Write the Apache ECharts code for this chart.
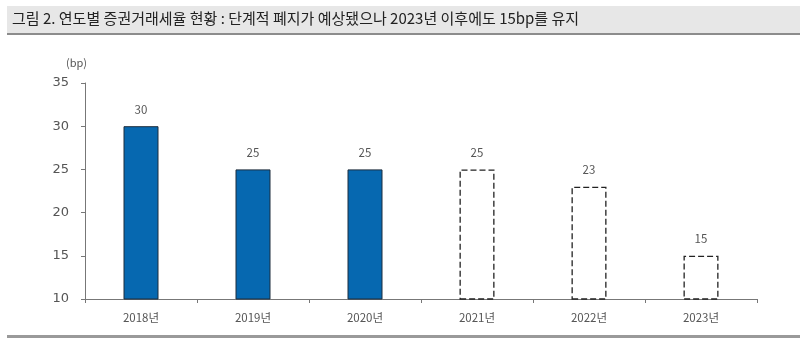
<!DOCTYPE html>
<html>
<head>
<meta charset="utf-8">
<script src="https://cdn.jsdelivr.net/npm/echarts@6/dist/echarts.min.js"></script>
<style>
  html, body { margin: 0; padding: 0; background: #fff; }
  #chart { width: 800px; height: 341px; }
</style>
</head>
<body>
<div id="chart"></div>
<script>
// Securities transaction tax rate by year (bp)
const years = ['2018년', '2019년', '2020년', '2021년', '2022년', '2023년'];
const taxRates = [30, 25, 25, 25, 23, 15];
// Years with scheduled (not yet enacted) rates are drawn as dashed outlines
const planned = [false, false, false, true, true, true];
const yTicks = { min: 10, max: 35, interval: 5 };

const chart = echarts.init(document.getElementById('chart'));

const barData = taxRates.map((v, i) => planned[i]
  ? { value: v, itemStyle: { color: '#ffffff', borderColor: '#222', borderWidth: 1.3, borderType: [6, 3] } }
  : { value: v, itemStyle: { color: '#0668b0', borderColor: '#1d2d3d', borderWidth: 1 } });

chart.setOption({
  animation: false,
  backgroundColor: '#ffffff',
  textStyle: { fontFamily: '"Noto Sans CJK KR", "Noto Sans", sans-serif' },
  graphic: [
    { type: 'rect', shape: { x: 7, y: 6, width: 793, height: 28 }, style: { fill: '#e7e7e7' }, z: -1 },
    { type: 'rect', shape: { x: 7, y: 33, width: 793, height: 2 }, style: { fill: '#8c8c8c' }, z: -1 },
    { type: 'rect', shape: { x: 7, y: 335, width: 793, height: 3 }, style: { fill: '#9a9a9a' }, z: -1 },
    { type: 'text', left: 12, top: 11,
      style: { text: '그림 2. 연도별 증권거래세율 현황 : 단계적 폐지가 예상됐으나 2023년 이후에도 15bp를 유지',
               fill: '#222', font: '15px "Noto Sans CJK KR", sans-serif' } }
  ],
  grid: { left: 85, right: 43, top: 83, bottom: 42, containLabel: false },
  xAxis: {
    type: 'category',
    data: years,
    axisLine: { lineStyle: { color: '#777', width: 1 } },
    axisTick: { show: true, lineStyle: { color: '#777' }, length: 4, alignWithLabel: false },
    axisLabel: { color: '#555', fontSize: 11.5, margin: 13 }
  },
  yAxis: {
    type: 'value',
    min: yTicks.min, max: yTicks.max, interval: yTicks.interval,
    name: '(bp)',
    nameLocation: 'end',
    nameGap: 15,
    nameTextStyle: { color: '#555', fontSize: 11, align: 'right', padding: [0, -2, 0, 0] },
    axisLine: { show: true, lineStyle: { color: '#777' } },
    axisTick: { show: true, length: 4, inside: false, lineStyle: { color: '#777' } },
    axisLabel: { color: '#555', fontSize: 13, margin: 16, fontFamily: 'Verdana, "DejaVu Sans", sans-serif' },
    splitLine: { show: false }
  },
  series: [{
    type: 'bar',
    data: barData,
    barWidth: 35,
    label: { show: true, position: 'top', distance: 11, color: '#555', fontSize: 11.5 }
  }]
});
</script>
</body>
</html>
